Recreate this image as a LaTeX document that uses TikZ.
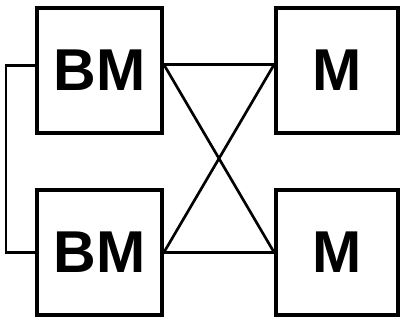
\documentclass[tikz,border=0pt]{standalone}
\usepackage{fontspec}
\setmainfont{Liberation Sans}
\usetikzlibrary{positioning}

\begin{document}
\begin{tikzpicture}[
  x=0.025cm, y=-0.025cm,
  blk/.style={draw, line width=2.6pt, minimum height=3.125cm,
              inner sep=0pt, font=\fontsize{42}{42}\selectfont\bfseries},
  wire/.style={line width=1.9pt}
]
  \useasboundingbox (0,0) rectangle (401,320);
  \node[blk, minimum width=3.125cm] (bmA) at (99.5, 70.5)  {BM};
  \node[blk, minimum width=3.05cm]  (mA)  at (337, 70.5)   {M};
  \node[blk, minimum width=3.125cm] (bmB) at (99.5, 252.5) {BM};
  \node[blk, minimum width=3.05cm]  (mB)  at (337, 252.5)  {M};

  \draw[wire] ([yshift=0.15cm]bmA.east) -- ([yshift=0.15cm]mA.west);
  \draw[wire] ([yshift=0.15cm]bmA.east) -- (mB.west);
  \draw[wire] (bmB.east) -- ([yshift=0.15cm]mA.west);
  \draw[wire] (bmB.east) -- (mB.west);
  \draw[wire] ([yshift=0.12cm]bmA.west) -- ++(-29,0) |- (bmB.west);
\end{tikzpicture}
\end{document}
